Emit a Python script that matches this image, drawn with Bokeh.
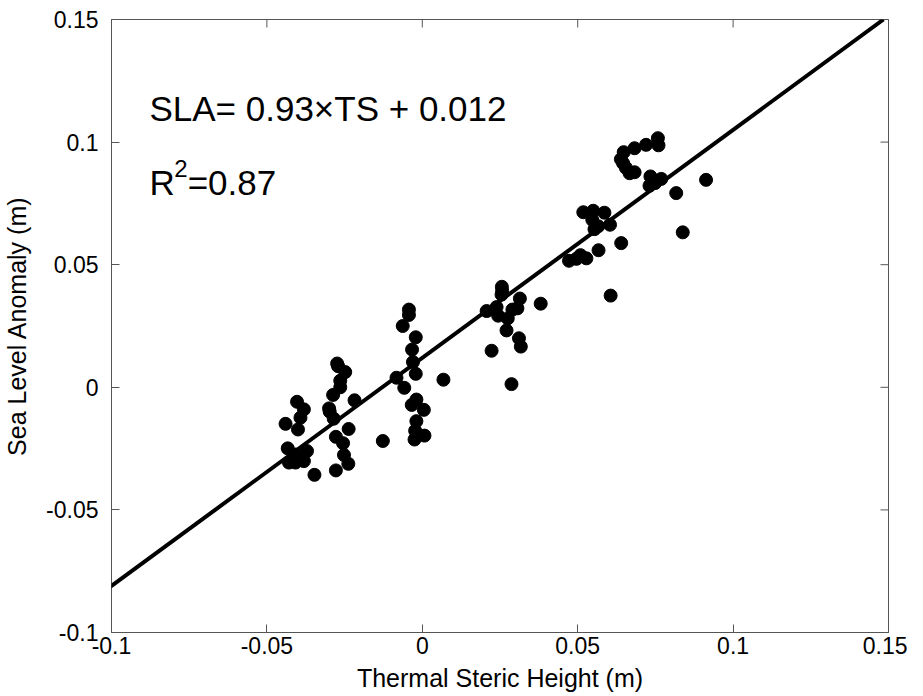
import math
from bokeh.plotting import figure
from bokeh.models import Slope, Label, FixedTicker, Range1d
from bokeh.embed import file_html
from bokeh.resources import INLINE

# ---- data ----
ts = [-0.0440, -0.0403, -0.0381, -0.0392, -0.0400, -0.0433, -0.0408, -0.0371, -0.0381, -0.0429,
      -0.0408, -0.0347, -0.0274, -0.0271, -0.0248, -0.0264, -0.0264, -0.0287, -0.0218, -0.0300,
      -0.0298, -0.0285, -0.0237, -0.0278, -0.0255, -0.0252, -0.0238, -0.0278, -0.0127, -0.0083,
      -0.0058, -0.0021, -0.0030, -0.0033, -0.0021, -0.0063, -0.0043, -0.0043, 0.0068, -0.0019,
      -0.0034, 0.0005, -0.0019, -0.0023, -0.0025, 0.0007, 0.0207, 0.0256, 0.0257, 0.0255,
      0.0239, 0.0244, 0.0275, 0.0290, 0.0306, 0.0314, 0.0381, 0.0271, 0.0311, 0.0317,
      0.0223, 0.0287, 0.0472, 0.0496, 0.0509, 0.0528, 0.0567, 0.0640, 0.0518, 0.0550,
      0.0586, 0.0547, 0.0566, 0.0554, 0.0604, 0.0606, 0.0648, 0.0639, 0.0646, 0.0655,
      0.0667, 0.0683, 0.0683, 0.0720, 0.0758, 0.0760, 0.0734, 0.0731, 0.0769, 0.0749,
      0.0817, 0.0838, 0.0913]
sla = [-0.0149, -0.0059, -0.0090, -0.0124, -0.0172, -0.0249, -0.0274, -0.0260, -0.0301, -0.0307,
       -0.0307, -0.0357, 0.0097, 0.0086, 0.0062, 0.0027, 0.0000, -0.0031, -0.0053, -0.0086,
       -0.0099, -0.0128, -0.0170, -0.0202, -0.0228, -0.0276, -0.0312, -0.0339, -0.0219, 0.0039,
       -0.0002, 0.0055, 0.0103, 0.0154, 0.0204, 0.0250, 0.0295, 0.0317, 0.0031, -0.0050,
       -0.0072, -0.0092, -0.0138, -0.0177, -0.0213, -0.0197, 0.0311, 0.0410, 0.0394, 0.0378,
       0.0327, 0.0292, 0.0281, 0.0317, 0.0322, 0.0362, 0.0341, 0.0232, 0.0200, 0.0166,
       0.0149, 0.0013, 0.0516, 0.0524, 0.0539, 0.0526, 0.0559, 0.0588, 0.0714, 0.0720,
       0.0712, 0.0683, 0.0657, 0.0645, 0.0663, 0.0374, 0.0959, 0.0930, 0.0914, 0.0895,
       0.0873, 0.0877, 0.0975, 0.0989, 0.1016, 0.0987, 0.0860, 0.0822, 0.0850, 0.0833,
       0.0792, 0.0632, 0.0846]
fit_slope = 0.93
fit_intercept = 0.012
tick_values = [-0.1, -0.05, 0.0, 0.05, 0.1, 0.15]
tick_labels = ["-0.1", "-0.05", "0", "0.05", "0.1", "0.15"]
x_lo, x_hi = -0.1, 0.15
y_lo, y_hi = -0.1, 0.15

FONT = "Liberation Sans"
FRAME = "#555555"

p = figure(width=907, height=694, output_backend="svg", toolbar_location=None,
           x_range=Range1d(x_lo, x_hi), y_range=Range1d(y_lo, y_hi),
           min_border_left=102, min_border_right=19, min_border_top=19, min_border_bottom=55)
p.grid.visible = False
p.outline_line_color = FRAME
p.outline_line_width = 1

overrides = {v: t for v, t in zip(tick_values, tick_labels)}

for ax in (p.xaxis[0], p.yaxis[0]):
    ax.ticker = FixedTicker(ticks=tick_values)
    ax.major_label_overrides = overrides
    ax.major_tick_in = 8
    ax.major_tick_out = 0
    ax.minor_tick_line_color = None
    ax.axis_line_color = FRAME
    ax.major_tick_line_color = FRAME
    ax.major_label_text_font = FONT
    ax.major_label_text_font_size = "23px"
    ax.major_label_text_color = "black"
    ax.axis_label_text_font = FONT
    ax.axis_label_text_font_size = "25px"
    ax.axis_label_text_font_style = "normal"
    ax.axis_label_text_color = "black"

p.xaxis.axis_label = "Thermal Steric Height (m)"
p.yaxis.axis_label = "Sea Level Anomaly (m)"
p.xaxis.major_label_standoff = 4
p.xaxis.axis_label_standoff = 7
p.yaxis.major_label_standoff = 13
p.yaxis.axis_label_standoff = 12

# box ticks on the top and right edges (half of each dash is clipped by the frame)
p.scatter(tick_values, [y_hi] * len(tick_values), marker="dash", angle=math.pi / 2,
          size=16, line_color=FRAME, line_width=1)
p.scatter([x_hi] * len(tick_values), tick_values, marker="dash",
          size=16, line_color=FRAME, line_width=1)

p.scatter(ts, sla, size=13, color="black", line_color="black")
p.add_layout(Slope(gradient=fit_slope, y_intercept=fit_intercept,
                   line_color="black", line_width=4))

p.add_layout(Label(x=-0.0878, y=0.1137, text="SLA= 0.93\u00d7TS + 0.012",
                   text_font=FONT, text_font_size="35px", text_color="black",
                   text_baseline="alphabetic"))
p.add_layout(Label(x=-0.0878, y=0.0835, text="R",
                   text_font=FONT, text_font_size="35px", text_color="black",
                   text_baseline="alphabetic"))
p.add_layout(Label(x=-0.0798, y=0.0892, text="2",
                   text_font=FONT, text_font_size="24px", text_color="black",
                   text_baseline="alphabetic"))
p.add_layout(Label(x=-0.0755, y=0.0835, text="=0.87",
                   text_font=FONT, text_font_size="35px", text_color="black",
                   text_baseline="alphabetic"))

open("out.html", "w").write(file_html(p, INLINE))
